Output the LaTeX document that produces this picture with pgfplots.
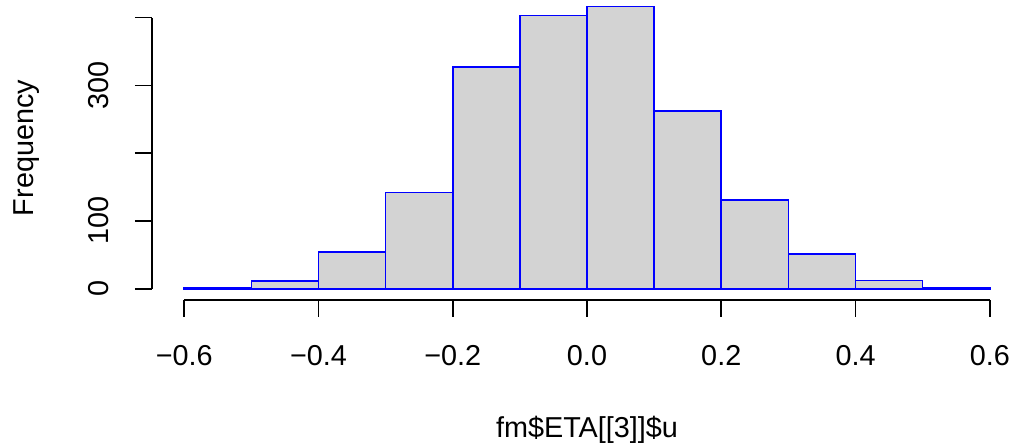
\documentclass[border=0pt]{standalone}
\usepackage{pgfplots}
\pgfplotsset{compat=1.18}
\usepackage{fontspec}
\setmainfont{Liberation Sans}
\definecolor{rgray}{RGB}{211,211,211}
\begin{document}
\fontsize{28.8}{34}\selectfont
\begin{tikzpicture}[x=1pt,y=1pt]
\path[use as bounding box] (0,0) rectangle (1018,447);
\begin{axis}[
  at={(152pt,147pt)}, anchor=south west,
  scale only axis, width=870pt, height=304.6pt,
  xmin=-0.648, xmax=0.648, ymin=-16.64, ymax=432.64,
  axis lines*=left, axis line style={draw=none},
  xtick={-0.6,-0.4,-0.2,0,0.2,0.4,0.6},
  xticklabels={−0.6,−0.4,−0.2,0.0,0.2,0.4,0.6},
  ytick={0,100,200,300,400},
  yticklabels={0,100,,300,},
  tick align=outside, major tick length=17pt,
  tick style={black, line width=1.6pt},
  xticklabel style={anchor=base, yshift=-49pt, inner sep=0pt},
  yticklabel style={rotate=90, anchor=base, inner sep=0pt},
  yticklabel shift=26pt,
  clip=false,
]
\addplot[ybar interval, fill=rgray, draw=blue, line width=1.6pt] coordinates {
(-0.6,1) (-0.5,11) (-0.4,54) (-0.3,142) (-0.2,327) (-0.1,403)
(0.0,416) (0.1,262) (0.2,131) (0.3,51) (0.4,12) (0.5,1) (0.6,1)};
\draw[black, line width=1.6pt] (axis cs:-0.6,-16.64) -- (axis cs:0.6,-16.64);
\draw[black, line width=1.6pt] (axis cs:-0.648,0) -- (axis cs:-0.648,400);
\end{axis}
\node[anchor=base] at (587,9) {fm\$ETA[[3]]\$u};
\node[anchor=base, rotate=90] at (33,299) {Frequency};
\end{tikzpicture}
\end{document}
